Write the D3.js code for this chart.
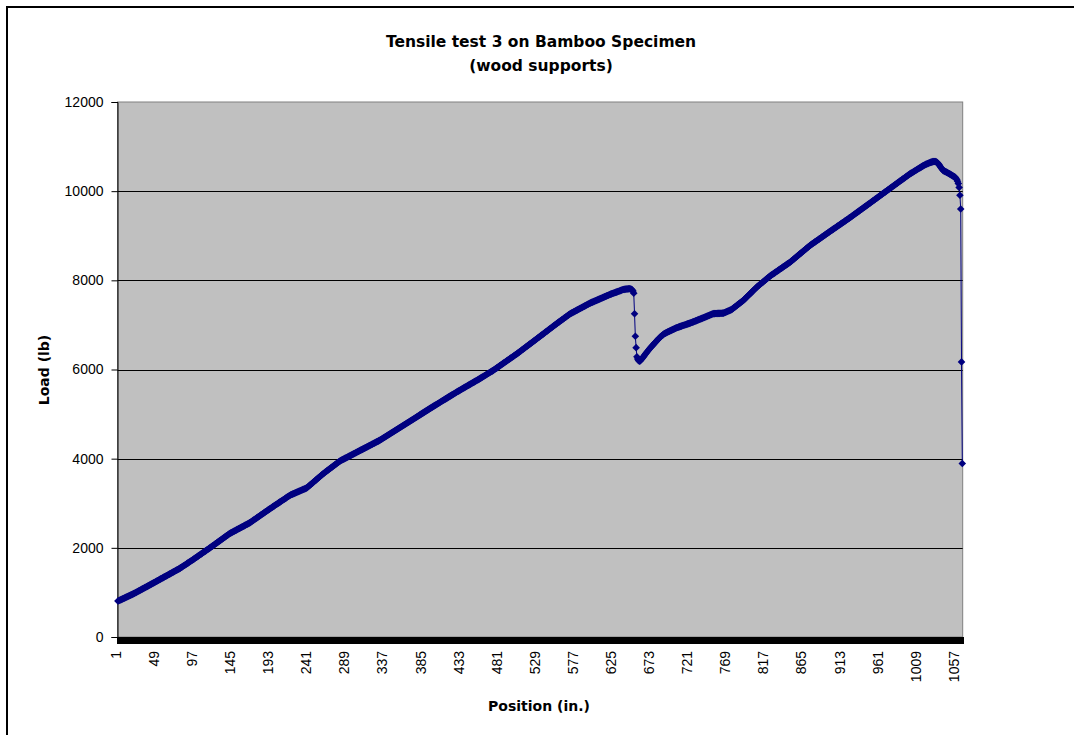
<!DOCTYPE html>
<html><head><meta charset="utf-8">
<script src="https://cdn.jsdelivr.net/npm/d3@7"></script>
<style>body{margin:0;background:#fff;} svg{display:block;}</style>
</head><body>
<svg id="c" width="1074" height="735"></svg>
<script>
const titleLines = ["Tensile test 3 on Bamboo Specimen", "(wood supports)"];
const xTitle = "Position (in.)";
const yTitle = "Load (lb)";
const yTicks = [0, 2000, 4000, 6000, 8000, 10000, 12000];
const xTickLabels = [1, 49, 97, 145, 193, 241, 289, 337, 385, 433, 481, 529, 577, 625, 673, 721, 769, 817, 865, 913, 961, 1009, 1057];
const loadValues = [
806,814,823,831,839,848,856,864,872,881,889,897,906,914,922,930,939,947,955,963,
973,982,992,1002,1011,1021,1031,1040,1050,1059,1069,1079,1088,1098,1107,1117,1127,1136,1146,1156,1165,
1175,1185,1195,1204,1214,1224,1234,1244,1254,1263,1273,1283,1293,1303,1313,1322,1332,1342,1352,1362,1372,1381,1391,1401,1411,1421,1431,1440,1450,1460,1470,1480,1490,1499,1509,1519,1529,1539,
1551,1563,1574,1586,1598,1610,1622,1633,1645,1657,1669,1681,1692,1704,1716,1728,1740,
1752,1765,1777,1790,1802,1814,1827,1839,1851,1864,1876,1889,1901,1913,1926,1938,1950,1963,1975,1988,2000,
2013,2026,2039,2052,2064,2077,2090,2103,2116,2129,2142,2155,2167,2180,2193,2206,2219,2232,2245,2258,2270,2283,2296,2309,2322,
2332,2341,2351,2360,2370,2379,2389,2398,2408,2417,2427,2436,2446,2455,2465,2474,2484,2493,2503,2512,2522,2531,2541,2550,2560,
2572,2585,2597,2610,2622,2634,2647,2659,2671,2684,2696,2709,2721,2733,2746,2758,2770,2783,2795,2808,2820,2832,2845,2857,2869,2882,
2894,2906,2918,2930,2942,2954,2966,2978,2990,3002,3014,3026,3037,3049,3061,3073,3085,3097,3109,3121,3133,3145,3157,3169,3181,
3189,3197,3204,3212,3220,3228,3236,3243,3251,3259,3267,3275,3282,3290,3298,3306,3314,3321,3329,3337,3345,
3360,3376,3391,3406,3422,3437,3452,3468,3483,3498,3514,3529,3544,3560,3575,3590,3606,3621,3636,3652,3667,
3680,3694,3707,3721,3734,3748,3761,3775,3788,3802,3815,3829,3842,3856,3869,3883,3896,3910,3923,3937,3950,
3959,3969,3978,3987,3996,4006,4015,4024,4033,4043,4052,4061,4070,4080,4089,4098,4107,4117,4126,4135,
4144,4154,4163,4172,4182,4191,4200,4209,4219,4228,4237,4246,4256,4265,4274,4283,4293,4302,4311,4320,
4330,4339,4348,4357,4367,4376,4385,4394,4404,4413,
4424,4435,4447,4458,4469,4480,4491,4503,4514,4525,4536,4547,4559,4570,4581,4592,4603,4615,4626,4637,4648,4659,4671,4682,4693,4704,4715,4727,4738,4749,
4760,4772,4783,4794,4806,4817,4828,4840,4851,4862,4874,4885,4896,4908,4919,4930,4942,4953,4964,4976,4987,4998,5010,5021,5032,5044,5055,5066,5078,5089,5100,5112,5123,
5134,5145,5156,5167,5178,5189,5200,5211,5221,5232,5243,5254,5265,5276,5287,5298,5309,5320,5331,5342,5353,5364,5375,5386,5397,5408,5419,5430,5440,5451,5462,5473,5484,5495,
5505,5516,5526,5536,5547,5557,5567,5578,5588,5598,5609,5619,5629,5640,5650,5660,5671,5681,5691,5702,5712,5722,5733,5743,5753,5764,5774,5784,5795,
5806,5817,5828,5839,5850,5861,5872,5883,5893,5904,5915,5926,5937,5948,5959,5970,5981,
5993,6006,6018,6031,6043,6056,6068,6081,6093,6106,6118,6131,6143,6156,6168,6181,6193,6206,6218,6230,6243,6255,6268,6280,6293,6305,6318,6330,6343,6355,
6368,6382,6395,6409,6422,6436,6449,6463,6476,6489,6503,6516,6530,6543,6557,6570,6584,6597,6610,6624,6637,6651,6664,6678,6691,
6705,6718,6732,6745,6759,6772,6786,6799,6813,6827,6840,6854,6867,6881,6894,6908,6921,6935,6949,6962,6976,6989,7003,7016,7030,
7043,7056,7069,7082,7095,7108,7121,7134,7147,7160,7173,7186,7199,7212,7225,7238,7251,
7261,7270,7280,7289,7299,7308,7318,7327,7337,7346,7356,7365,7375,7384,7394,7403,7413,7422,7432,7441,7451,7460,7470,7479,7489,
7497,7505,7512,7520,7528,7536,7543,7551,7559,7567,7574,7582,7590,7598,7605,7613,7621,7629,7636,7644,7652,7660,7667,7675,7683,
7690,7696,7703,7709,7716,7723,7729,7736,7742,7749,7756,7762,7769,7775,7782,7789,7795,
7798,7801,7803,7805,7807,7809,7810,7810,
7806,7798,7785,7762,7713,
7250,6745,6490,6285,6235,6205,6185,6190,
6213,6236,6259,6282,6305,6329,6352,6375,6398,6421,6444,6467,
6487,6507,6526,6546,6566,6586,6605,6625,6645,6665,6684,6702,6720,6737,6753,6768,6782,
6795,6806,6816,6825,6834,6843,6851,6860,6868,6877,6885,6894,6903,6911,6920,6928,6937,
6943,6949,6955,6961,6968,6974,6980,6986,6992,6998,7004,7010,7017,7023,7029,7035,7041,
7048,7055,7062,7069,7076,7083,7090,7097,7105,7112,7119,7126,7133,7140,7147,7154,7161,
7169,7176,7184,7191,7199,7206,7214,7221,7229,7236,7244,7251,
7253,7254,7255,7256,7257,7258,7259,7260,7261,7262,7263,7264,7265,
7272,7280,7288,7295,7303,7311,7318,7326,7334,7341,
7355,7369,7383,7396,7410,7424,7438,7452,7466,7480,7494,7507,7521,7535,7549,
7567,7584,7602,7619,7637,7654,7672,7689,7707,7724,7742,7759,7777,7794,7812,7829,7847,
7862,7877,7892,7907,7922,7936,7951,7966,7981,7996,8011,8026,8041,8056,8070,8085,8100,
8112,8125,8137,8149,8161,8174,8186,8198,8211,8223,8235,8247,8260,8272,8284,8296,8309,8321,8333,8346,8358,8370,8382,8395,8407,
8422,8437,8452,8467,8482,8497,8512,8527,8542,8557,8572,8587,8602,8616,8631,8646,8661,8676,8691,8706,8721,8736,8751,8766,8781,
8794,8806,8819,8831,8844,8856,8869,8881,8894,8906,8919,8931,8944,8956,8969,8981,8994,9006,9019,9031,9044,9056,9069,9081,9094,
9106,9119,9131,9143,9155,9168,9180,9192,9205,9217,9229,9241,9254,9266,9278,9290,9303,9315,9327,9340,9352,9364,9376,9389,9401,
9414,9427,9440,9453,9466,9479,9492,9505,9518,9531,9544,9557,9570,9583,9596,9609,9622,9635,9648,9660,
9673,9686,9699,9712,9725,9738,9751,9764,9777,9790,9803,9816,9829,9842,9855,9868,9881,9894,9907,9920,
9933,9946,9959,9972,9985,9998,10011,10024,10037,10050,10063,10076,10089,10102,10115,10128,10141,10154,10167,10180,
10193,10206,10219,10232,10245,10258,10270,10283,10296,10309,10322,10335,10348,10361,10374,10387,
10398,10409,10420,10431,10441,10452,10463,10474,10485,10496,10507,10518,10529,10540,10551,10562,10573,
10582,10591,10600,10608,10616,10624,10632,10639,10646,10652,10657,10662,
10665,10666,10664,10658,10648,10631,10611,
10585,10558,10532,10507,10484,10461,
10452,10444,10435,10426,10416,10406,10397,10387,
10376,10365,10354,10343,10332,10321,10311,
10290,10262,10222,10170,10085,9910,9600,6170,3890
];
const positions = loadValues.map((v, i) => i + 1);

const svg = d3.select("#c");
const plot = {left: 117.5, right: 962.7, top: 102, bottom: 637};
const navy = "#000080";
const tickFont = "'Liberation Sans', Arial, sans-serif";
const boldFont = "'DejaVu Sans', sans-serif";

// chart area border
svg.append("rect").attr("x", 0).attr("y", 0).attr("width", 1074).attr("height", 735).attr("fill", "#fff");
svg.append("rect").attr("x", 7).attr("y", 7).attr("width", 1200).attr("height", 900)
  .attr("fill", "#fff").attr("stroke", "#000").attr("stroke-width", 2);

const x = d3.scaleBand().domain(positions).range([plot.left, plot.right]).padding(0);
const xc = p => x(p) + x.bandwidth() / 2;
const y = d3.scaleLinear().domain([0, 12000]).range([plot.bottom, plot.top]);

// plot area
svg.append("rect").attr("x", plot.left).attr("y", plot.top)
  .attr("width", plot.right - plot.left).attr("height", plot.bottom - plot.top)
  .attr("fill", "#c0c0c0").attr("stroke", "#808080").attr("stroke-width", 1);

// gridlines
svg.append("g").selectAll("line").data(yTicks.filter(t => t > 0 && t < 12000)).join("line")
  .attr("x1", plot.left).attr("x2", plot.right)
  .attr("y1", d => Math.round(y(d)) + 0.5).attr("y2", d => Math.round(y(d)) + 0.5)
  .attr("stroke", "#000").attr("stroke-width", 1);

// y axis
const yAxis = svg.append("g").attr("transform", `translate(${plot.left},0)`)
  .call(d3.axisLeft(y).tickValues(yTicks).tickSize(6).tickPadding(8).tickFormat(d3.format("d")));
yAxis.selectAll("text").attr("font-family", tickFont).attr("font-size", 14).attr("fill", "#000");
yAxis.selectAll("line,path").attr("stroke", "#000");

// x axis: a tick mark for every category
const xAxis = svg.append("g").attr("transform", `translate(0,${plot.bottom})`)
  .attr("shape-rendering", "crispEdges")
  .call(d3.axisBottom(x).tickSize(7).tickFormat(""));
xAxis.selectAll("line,path").attr("stroke", "#000").attr("stroke-width", 1.2);

// x tick labels
svg.append("g").selectAll("text").data(xTickLabels).join("text")
  .attr("transform", d => `translate(${xc(d) - 2},651) rotate(-90)`)
  .attr("text-anchor", "end").attr("dy", "0.35em")
  .attr("font-family", tickFont).attr("font-size", 14).attr("fill", "#000")
  .text(d => d);

// series line
const line = d3.line().x((d, i) => xc(positions[i])).y(d => y(d));
svg.append("path").datum(loadValues).attr("d", line)
  .attr("fill", "none").attr("stroke", navy).attr("stroke-width", 1);

// diamond markers
svg.append("g").selectAll("path").data(loadValues).join("path")
  .attr("transform", (d, i) => `translate(${xc(positions[i])},${y(d)})`)
  .attr("d", "M0,-3.8L3.8,0L0,3.8L-3.8,0Z").attr("fill", navy);

// titles
svg.append("text").attr("x", 541).attr("y", 47).attr("text-anchor", "middle")
  .attr("font-family", boldFont).attr("font-weight", "bold").attr("font-size", 15.5).text(titleLines[0]);
svg.append("text").attr("x", 541).attr("y", 71).attr("text-anchor", "middle")
  .attr("font-family", boldFont).attr("font-weight", "bold").attr("font-size", 15.5).text(titleLines[1]);
svg.append("text").attr("x", 539).attr("y", 711).attr("text-anchor", "middle")
  .attr("font-family", boldFont).attr("font-weight", "bold").attr("font-size", 14).text(xTitle);
svg.append("text").attr("transform", "translate(49,370) rotate(-90)").attr("text-anchor", "middle")
  .attr("font-family", boldFont).attr("font-weight", "bold").attr("font-size", 14).text(yTitle);
</script>
</body></html>
